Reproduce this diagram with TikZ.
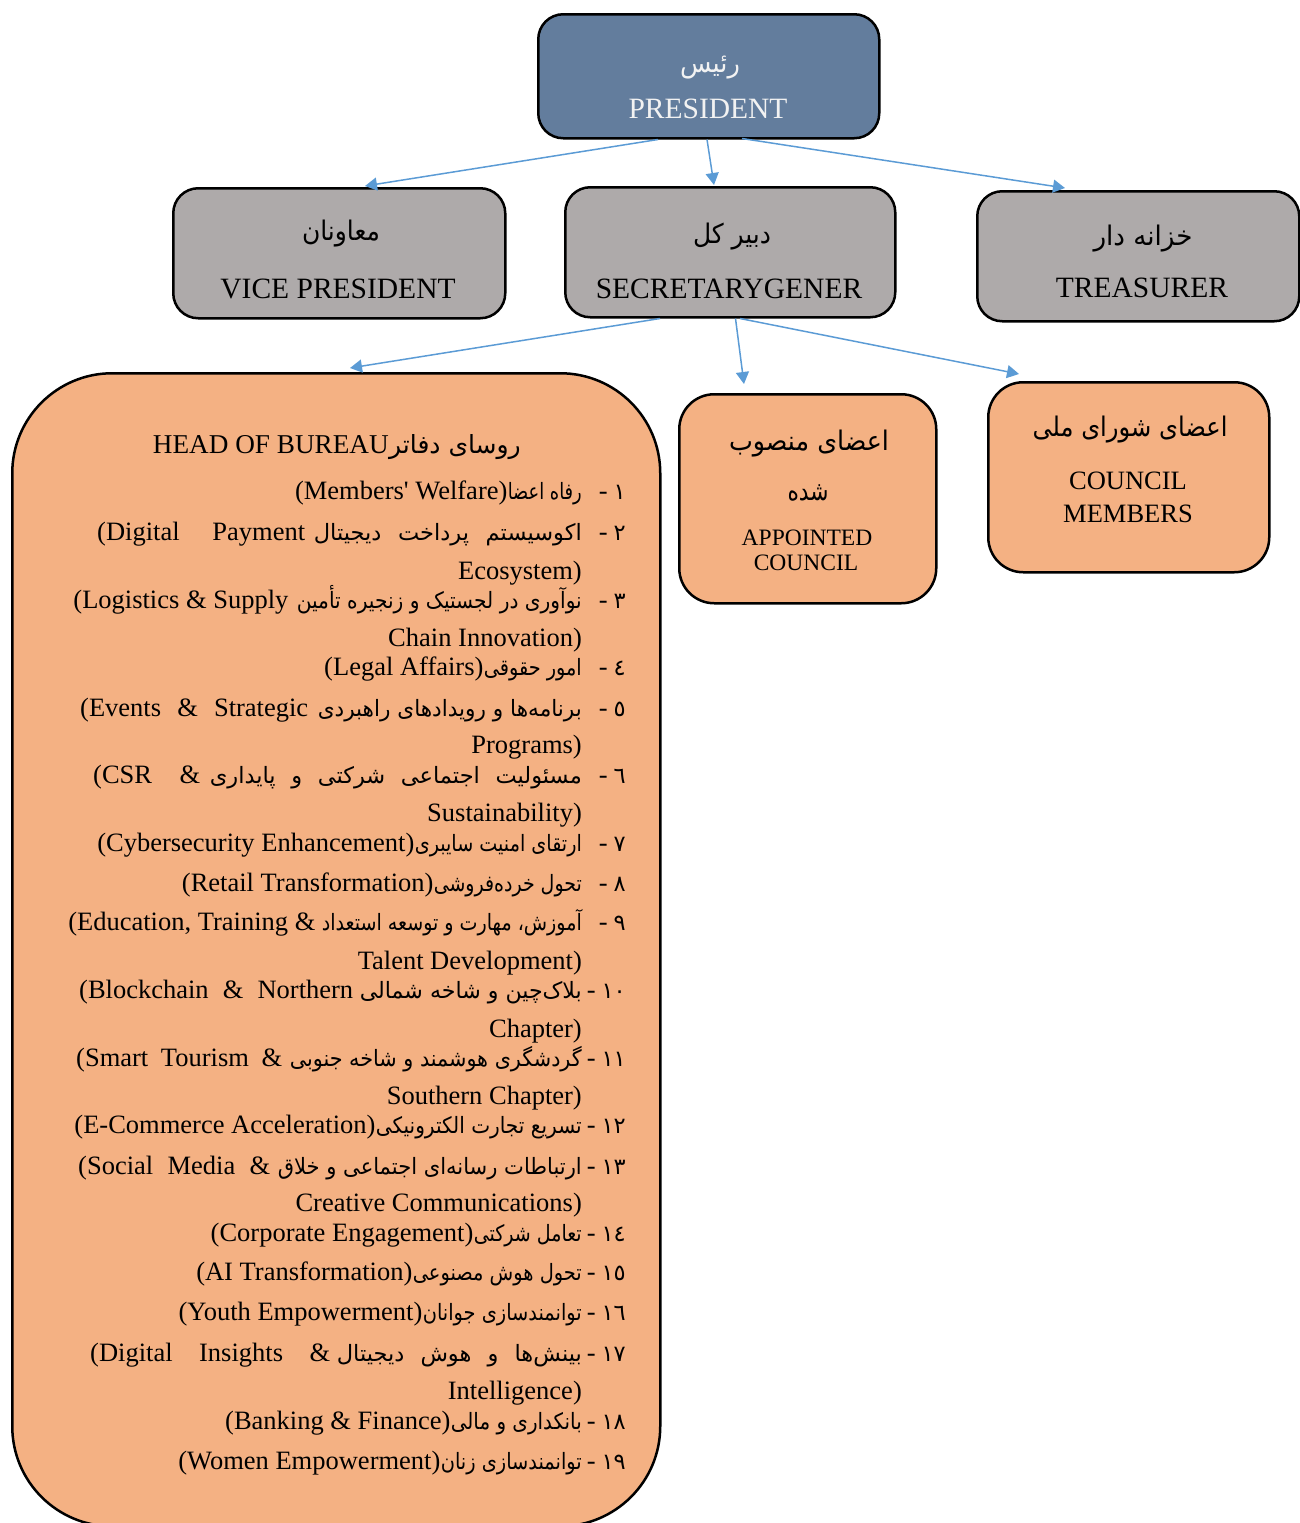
\documentclass[tikz,border=0pt]{standalone}
\usepackage{fontspec}
\usepackage{graphicx}
\setmainfont{Liberation Serif}
\newfontfamily\arabicfont[Script=Arabic]{DejaVu Sans}
\TeXXeTstate=1
\usetikzlibrary{arrows.meta,calc}
\definecolor{presblue}{RGB}{99,125,157}
\definecolor{boxgrey}{RGB}{174,170,170}
\definecolor{boxorange}{RGB}{244,177,131}
\definecolor{arrblue}{RGB}{91,155,213}
\definecolor{prestext}{RGB}{242,242,242}
\newsavebox\fitbx
\newlength\fitw
% fit content between x positions #1 and #2: shrink if too wide, else spread spaces
\newcommand\fitto[3]{\setlength\fitw{\dimexpr #2pt-#1pt\relax}\sbox\fitbx{#3}\ifdim\wd\fitbx>\fitw\resizebox{\fitw}{\height}{\usebox\fitbx}\else\makebox[\fitw][s]{#3}\fi}
% shrink only, to the span from #1 to #2
\newcommand\shrinkft[3]{\setlength\fitw{\dimexpr #2pt-#1pt\relax}\sbox\fitbx{#3}\ifdim\wd\fitbx>\fitw\resizebox{\fitw}{\height}{\usebox\fitbx}\else\usebox\fitbx\fi}
% shrink only to width #1 (pt)
\newcommand\shrinkto[2]{\setlength\fitw{#1pt}\sbox\fitbx{#2}\ifdim\wd\fitbx>\fitw\resizebox{\fitw}{\height}{\usebox\fitbx}\else\usebox\fitbx\fi}
\newcommand\arL{\arabicfont\fontsize{22.5}{26}\selectfont}
\newcommand\arB{\arabicfont\fontsize{27}{32}\selectfont}
% justified row: name, baseline, latin start, latin end, persian start, latin, persian
\newcommand\RowJ[7]{%
  \node[txt, anchor=base west] (#1l) at (#3,-#2) {\fitto{#3}{#4}{#6}};
  \node[txt, anchor=base east] (#1p) at (582,-#2) {\fitto{#5}{582}{\arL #7}};}
% natural row: name, baseline, persian start, latin, persian
\newcommand\RowN[5]{%
  \node[txt, anchor=base east] (#1p) at (582,-#2) {\shrinkft{#3}{582}{\arL #5}};
  \node[txt, anchor=base east] (#1l) at (#1p.base west) {#4};}
\newcommand\Num[3]{\node[txt, anchor=base east] (#1) at (626,-#2) {-\hspace{6pt}{\arL #3}};}
\newcommand\Cont[3]{\node[txt, anchor=base east] (#1) at (582,-#2) {#3};}
\begin{document}
\begin{tikzpicture}[x=1pt,y=1pt,
  orgbox/.style={draw=black, line width=2.5pt, inner sep=0pt, anchor=north west},
  arr/.style={draw=arrblue, line width=1.5pt, -{Triangle[length=12pt,width=13pt]}},
  lab/.style={inner sep=0pt, anchor=base, font=\fontsize{29.5}{34}\selectfont},
  txt/.style={inner sep=0pt, font=\fontsize{26.5}{30}\selectfont}]
\useasboundingbox (0,0) rectangle (1299,-1523);
% boxes
\node[orgbox, fill=presblue, rounded corners=25pt, minimum width=341pt, minimum height=124pt] (pres) at (537,-13) {};
\node[orgbox, fill=boxgrey, rounded corners=25pt, minimum width=332pt, minimum height=130pt] (vp) at (172,-187) {};
\node[orgbox, fill=boxgrey, rounded corners=25pt, minimum width=330pt, minimum height=130pt] (sg) at (564,-186) {};
\node[orgbox, fill=boxgrey, rounded corners=25pt, minimum width=322pt, minimum height=130pt] (tr) at (976,-190) {};
\node[orgbox, fill=boxorange, rounded corners=35pt, minimum width=257pt, minimum height=209pt] (ac) at (678,-393) {};
\node[orgbox, fill=boxorange, rounded corners=35pt, minimum width=281pt, minimum height=190pt] (cm) at (987,-381) {};
\node[orgbox, fill=boxorange, rounded corners=100pt, minimum width=648pt, minimum height=1153pt] (hob) at (11,-372) {};
% connectors
\draw[arr] ($(pres.south west)+(121,0)$) -- ($(vp.north west)+(193,1)$);
\draw[arr] ($(pres.south west)+(170,0)$) -- ($(sg.north west)+(150,1)$);
\draw[arr] ($(pres.south west)+(205,1)$) -- ($(tr.north west)+(89,2)$);
\draw[arr] ($(sg.south west)+(96,0)$) -- ($(hob.north west)+(339,4)$);
\draw[arr] ($(sg.south west)+(171.5,0)$) -- ($(ac.north west)+(66,9)$);
\draw[arr] ($(sg.south west)+(176,0)$) -- ($(cm.north west)+(32,7)$);
% top labels
\node[lab, text=prestext] (presfa) at (710,-72) {\shrinkto{60}{\arB\beginR رئیس\endR}};
\node[lab, text=prestext] (presen) at (708,-118) {PRESIDENT};
\node[lab] (vpfa) at (341,-240) {\shrinkto{78}{\arB\beginR معاونان\endR}};
\node[lab] (vpen) at (338,-298) {VICE PRESIDENT};
\node[lab] (sgfa) at (732,-243) {\shrinkto{78}{\arB\beginR دبیر کل\endR}};
\node[lab] (sgen) at (729,-298) {SECRETARYGENER};
\node[lab] (trfa) at (1143,-245) {\shrinkto{99}{\arB\beginR خزانه دار\endR}};
\node[lab] (tren) at (1142,-297) {TREASURER};
\node[lab] (acfa1) at (809,-450) {\shrinkto{160}{\arB\beginR اعضای منصوب\endR}};
\node[lab] (acfa2) at (808,-500) {\shrinkto{41}{\arB\beginR شده\endR}};
\node[lab, font=\fontsize{23.5}{28}\selectfont] (acen1) at (807,-545) {APPOINTED};
\node[lab, font=\fontsize{23.5}{28}\selectfont] (acen2) at (806,-570) {COUNCIL};
\node[lab] (cmfa) at (1130,-436) {\shrinkto{195}{\arB\beginR اعضای شورای ملی\endR}};
\node[lab, font=\fontsize{26.5}{30}\selectfont] (cmen1) at (1128,-489) {COUNCIL};
\node[lab, font=\fontsize{26.5}{30}\selectfont] (cmen2) at (1128,-522) {MEMBERS};
% title of bureau list
\node[txt, anchor=base east] (hobtfa) at (521,-453) {\shrinkft{384}{521}{\arabicfont\fontsize{25}{30}\selectfont\beginR روسای دفاتر\endR}};
\node[txt, anchor=base east, font=\fontsize{27.2}{30}\selectfont] (hobt) at (hobtfa.base west) {HEAD OF BUREAU};
% list
\RowN{r1}{499}{508}{(Members\textquotesingle{} Welfare)}{\beginR رفاه اعضا\endR}
\Num{n1}{499}{١}
\RowJ{r2}{540}{97}{305}{314}{(Digital Payment}{\beginR اکوسیستم پرداخت دیجیتال\endR}
\Num{n2}{540}{٢}
\Cont{c2}{579}{Ecosystem)}
\RowN{r3}{608}{297}{(Logistics \& Supply\kern8pt}{\beginR نوآوری در لجستیک و زنجیره تأمین\endR}
\Num{n3}{608}{٣}
\Cont{c3}{646}{Chain Innovation)}
\RowN{r4}{675}{484}{(Legal Affairs)}{\beginR امور حقوقی\endR}
\Num{n4}{675}{٤}
\RowJ{r5}{716}{80}{308}{318}{(Events \& Strategic}{\beginR برنامه‌ها و رویدادهای راهبردی\endR}
\Num{n5}{716}{٥}
\Cont{c5}{753}{Programs)}
\RowJ{r6}{783}{93}{200}{210}{(CSR \&}{\beginR مسئولیت اجتماعی شرکتی و پایداری\endR}
\Num{n6}{783}{٦}
\Cont{c6}{821}{Sustainability)}
\RowN{r7}{851}{415}{(Cybersecurity Enhancement)}{\beginR ارتقای امنیت سایبری\endR}
\Num{n7}{851}{٧}
\RowN{r8}{891}{434}{(Retail Transformation)}{\beginR تحول خرده‌فروشی\endR}
\Num{n8}{891}{٨}
\RowN{r9}{930}{322}{(Education, Training \&\kern6pt}{\beginR آموزش، مهارت و توسعه استعداد\endR}
\Num{n9}{930}{٩}
\Cont{c9}{969}{Talent Development)}
\RowJ{r10}{998}{79}{353}{360}{(Blockchain \& Northern}{\beginR بلاک‌چین و شاخه شمالی\endR}
\Num{n10}{998}{١٠}
\Cont{c10}{1037}{Chapter)}
\RowJ{r11}{1066}{76}{282}{290}{(Smart Tourism \&}{\beginR گردشگری هوشمند و شاخه جنوبی\endR}
\Num{n11}{1066}{١١}
\Cont{c11}{1104}{Southern Chapter)}
\RowN{r12}{1133}{376}{(E-Commerce Acceleration)}{\beginR تسریع تجارت الکترونیکی\endR}
\Num{n12}{1133}{١٢}
\RowJ{r13}{1174}{78}{270}{278}{(Social Media \&}{\beginR ارتباطات رسانه‌ای اجتماعی و خلاق\endR}
\Num{n13}{1174}{١٣}
\Cont{c13}{1211}{Creative Communications)}
\RowN{r14}{1241}{474}{(Corporate Engagement)}{\beginR تعامل شرکتی\endR}
\Num{n14}{1241}{١٤}
\RowN{r15}{1280}{413}{(AI Transformation)}{\beginR تحول هوش مصنوعی\endR}
\Num{n15}{1280}{١٥}
\RowN{r16}{1320}{423}{(Youth Empowerment)}{\beginR توانمندسازی جوانان\endR}
\Num{n16}{1320}{١٦}
\RowJ{r17}{1361}{90}{330}{337}{(Digital Insights \&}{\beginR بینش‌ها و هوش دیجیتال\endR}
\Num{n17}{1361}{١٧}
\Cont{c17}{1399}{Intelligence)}
\RowN{r18}{1429}{451}{(Banking \& Finance)}{\beginR بانکداری و مالی\endR}
\Num{n18}{1429}{١٨}
\RowN{r19}{1469}{441}{(Women Empowerment)}{\beginR توانمندسازی زنان\endR}
\Num{n19}{1469}{١٩}
\end{tikzpicture}
\end{document}
